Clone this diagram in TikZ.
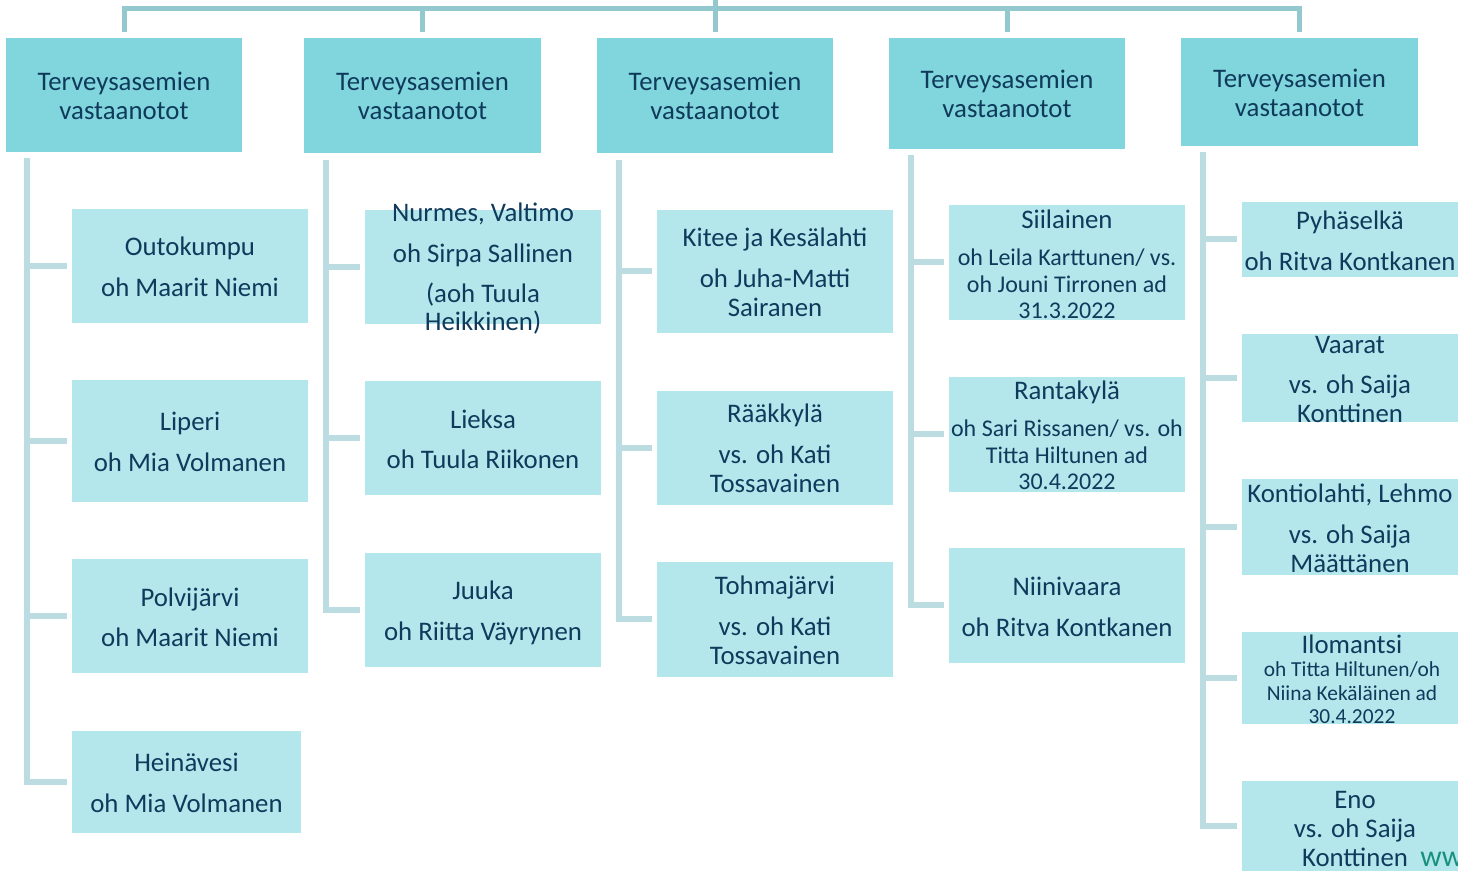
\documentclass[tikz,border=0pt]{standalone}
\usepackage{fontspec}
\setmainfont{Carlito}
\definecolor{hdr}{HTML}{80D6DC}
\definecolor{chd}{HTML}{B3E7EB}
\definecolor{topc}{HTML}{93C8CE}
\definecolor{colc}{HTML}{BBDDE2}
\definecolor{ink}{HTML}{0F3A5C}
\definecolor{wgreen}{HTML}{17907F}
\newcommand\mybox[6]{\node[#2,minimum width={(#5-#3)*0.5pt},minimum height={(#6-#4)*0.5pt}] (#1) at ({(#3+#5)/2},{(#4+#6)/2}) {};}
\tikzset{
  hbox/.style={rectangle,fill=hdr,draw=none,inner sep=0pt},
  cbox/.style={rectangle,fill=chd,draw=none,inner sep=0pt},
  big/.style={anchor=base,inner sep=0pt,yshift=-0.8pt,text=ink,font=\fontsize{13.4}{14.5}\selectfont},
  sml/.style={anchor=base,inner sep=0pt,yshift=-0.8pt,text=ink,font=\fontsize{12}{13}\selectfont},
  tny/.style={anchor=base,inner sep=0pt,yshift=-0.8pt,text=ink,font=\fontsize{10.7}{12}\selectfont},
  topline/.style={draw=topc,line width=2.5pt},
  colline/.style={draw=colc,line width=3pt},
}
\begin{document}
\begin{tikzpicture}[x=0.5pt,y=-0.5pt]
\useasboundingbox (0,0) rectangle (1458,871);
\clip (0,0) rectangle (1458,871);
% header boxes
\mybox{h1}{hbox}{6}{38}{242}{152}
\mybox{h2}{hbox}{304}{38}{541}{153}
\mybox{h3}{hbox}{597}{38}{833}{153}
\mybox{h4}{hbox}{889}{38}{1125}{149}
\mybox{h5}{hbox}{1181}{38}{1418}{146}
% child boxes
\mybox{c1a}{cbox}{72}{209}{308}{323}
\mybox{c1b}{cbox}{72}{380}{308}{502}
\mybox{c1c}{cbox}{72}{559}{308}{673}
\mybox{c1d}{cbox}{72}{731}{301}{833}
\mybox{c2a}{cbox}{365}{210}{601}{324}
\mybox{c2b}{cbox}{365}{381}{601}{495}
\mybox{c2c}{cbox}{365}{553}{601}{667}
\mybox{c3a}{cbox}{657}{210}{893}{333}
\mybox{c3b}{cbox}{657}{391}{893}{505}
\mybox{c3c}{cbox}{657}{562}{893}{677}
\mybox{c4a}{cbox}{949}{205}{1185}{320}
\mybox{c4b}{cbox}{949}{377}{1185}{492}
\mybox{c4c}{cbox}{949}{548}{1185}{663}
\mybox{c5a}{cbox}{1242}{202}{1458}{277}
\mybox{c5b}{cbox}{1242}{334}{1458}{422}
\mybox{c5c}{cbox}{1242}{479}{1458}{575}
\mybox{c5d}{cbox}{1242}{632}{1458}{724}
\mybox{c5e}{cbox}{1242}{781}{1458}{871}
% top connectors
\coordinate (top) at (715,0);
\coordinate (bar) at (715,9);
\draw[topline] ([yshift=3pt]h1.north) |- (bar) -| ([yshift=3pt]h5.north);
\draw[topline] (bar -| h2.north) -- ([yshift=3pt]h2.north);
\draw[topline] (top) -- ([yshift=3pt]h3.north);
\draw[topline] (bar -| h4.north) -- ([yshift=3pt]h4.north);
% column spines
\coordinate (s1) at (27,158);
\coordinate (s2) at (326,160);
\coordinate (s3) at (619,160);
\coordinate (s4) at (911,155);
\coordinate (s5) at (1203,152);
\draw[colline] (s1) -- (s1 |- c1d.west) -- ([xshift=-2.5pt]c1d.west);
\draw[colline] (s1 |- c1a.west) -- ([xshift=-2.5pt]c1a.west);
\draw[colline] (s1 |- c1b.west) -- ([xshift=-2.5pt]c1b.west);
\draw[colline] (s1 |- c1c.west) -- ([xshift=-2.5pt]c1c.west);
\draw[colline] (s2) -- (s2 |- c2c.west) -- ([xshift=-2.5pt]c2c.west);
\draw[colline] (s2 |- c2a.west) -- ([xshift=-2.5pt]c2a.west);
\draw[colline] (s2 |- c2b.west) -- ([xshift=-2.5pt]c2b.west);
\draw[colline] (s3) -- (s3 |- c3c.west) -- ([xshift=-2.5pt]c3c.west);
\draw[colline] (s3 |- c3a.west) -- ([xshift=-2.5pt]c3a.west);
\draw[colline] (s3 |- c3b.west) -- ([xshift=-2.5pt]c3b.west);
\draw[colline] (s4) -- (s4 |- c4c.west) -- ([xshift=-2.5pt]c4c.west);
\draw[colline] (s4 |- c4a.west) -- ([xshift=-2.5pt]c4a.west);
\draw[colline] (s4 |- c4b.west) -- ([xshift=-2.5pt]c4b.west);
\draw[colline] (s5) -- (s5 |- c5e.west) -- ([xshift=-2.5pt]c5e.west);
\draw[colline] (s5 |- c5a.west) -- ([xshift=-2.5pt]c5a.west);
\draw[colline] (s5 |- c5b.west) -- ([xshift=-2.5pt]c5b.west);
\draw[colline] (s5 |- c5c.west) -- ([xshift=-2.5pt]c5c.west);
\draw[colline] (s5 |- c5d.west) -- ([xshift=-2.5pt]c5d.west);
% header texts
\foreach \cx/\ya/\yb/\nm in {124/89/118/a,422.5/89/118/b,715/89/118/c,1007/87/116/d,1299.5/86/115/e}{
  \node[big] (ht1\nm) at (\cx,\ya) {Terveysasemien};
  \node[big] (ht2\nm) at (\cx,\yb) {vastaanotot};
}
% column 1
\node[big] (t1a1) at (190,254) {Outokumpu};
\node[big] (t1a2) at (190,295) {oh Maarit Niemi};
\node[big] (t1b1) at (190,429) {Liperi};
\node[big] (t1b2) at (190,470) {oh Mia Volmanen};
\node[big] (t1c1) at (190,605) {Polvijärvi};
\node[big] (t1c2) at (190,645) {oh Maarit Niemi};
\node[big] (t1d1) at (186.5,770) {Heinävesi};
\node[big] (t1d2) at (186.5,811) {oh Mia Volmanen};
% column 2
\node[big] (t2a1) at (483,220) {Nurmes, Valtimo};
\node[big] (t2a2) at (483,261) {oh Sirpa Sallinen};
\node[big] (t2a3) at (483,301) {(aoh Tuula};
\node[big] (t2a4) at (483,329) {Heikkinen)};
\node[big] (t2b1) at (483,427) {Lieksa};
\node[big] (t2b2) at (483,467) {oh Tuula Riikonen};
\node[big] (t2c1) at (483,598) {Juuka};
\node[big] (t2c2) at (483,639) {oh Riitta Väyrynen};
% column 3
\node[big] (t3a1) at (775,245) {Kitee ja Kesälahti};
\node[big] (t3a2) at (775,286) {oh Juha-Matti};
\node[big] (t3a3) at (775,315) {Sairanen};
\node[big] (t3b1) at (775,421) {Rääkkylä};
\node[big] (t3b2) at (775,462) {vs. oh Kati};
\node[big] (t3b3) at (775,491) {Tossavainen};
\node[big] (t3c1) at (775,593) {Tohmajärvi};
\node[big] (t3c2) at (775,634) {vs. oh Kati};
\node[big] (t3c3) at (775,663) {Tossavainen};
% column 4
\node[big] (t4a1) at (1067,227) {Siilainen};
\node[sml] (t4a2) at (1067,264) {oh Leila Karttunen/ vs.};
\node[sml] (t4a3) at (1067,291) {oh Jouni Tirronen ad};
\node[sml] (t4a4) at (1067,317) {31.3.2022};
\node[big] (t4b1) at (1067,398) {Rantakylä};
\node[sml] (t4b2) at (1067,435) {oh Sari Rissanen/ vs. oh};
\node[sml] (t4b3) at (1067,462) {Titta Hiltunen ad};
\node[sml] (t4b4) at (1067,488) {30.4.2022};
\node[big] (t4c1) at (1067,594) {Niinivaara};
\node[big] (t4c2) at (1067,635) {oh Ritva Kontkanen};
% column 5
\node[big] (t5a1) at (1350,228) {Pyhäselkä};
\node[big] (t5a2) at (1350,269) {oh Ritva Kontkanen};
\node[big] (t5b1) at (1350,352) {Vaarat};
\node[big] (t5b2) at (1350,392) {vs. oh Saija};
\node[big] (t5b3) at (1350,421) {Konttinen};
\node[big] (t5c1) at (1350,501) {Kontiolahti, Lehmo};
\node[big] (t5c2) at (1350,542) {vs. oh Saija};
\node[big] (t5c3) at (1350,571) {Määttänen};
\node[big] (t5d1) at (1352,652) {Ilomantsi};
\node[tny] (t5d2) at (1352,675) {oh Titta Hiltunen/oh};
\node[tny] (t5d3) at (1352,699) {Niina Kekäläinen ad};
\node[tny] (t5d4) at (1352,722) {30.4.2022};
\node[big] (t5e1) at (1355,807) {Eno};
\node[big] (t5e2) at (1355,836) {vs. oh Saija};
\node[big] (t5e3) at (1355,865) {Konttinen};
\node[anchor=base west,inner sep=0pt,yshift=-0.8pt,text=wgreen,font=\fontsize{15}{16}\selectfont] (www) at (1420,865) {www};
\end{tikzpicture}
\end{document}
